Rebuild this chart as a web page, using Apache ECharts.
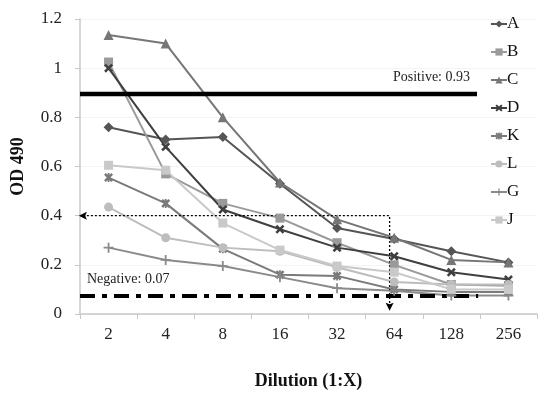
<!DOCTYPE html>
<html><head><meta charset="utf-8">
<script src="https://cdn.jsdelivr.net/npm/echarts@6/dist/echarts.min.js"></script>
<style>html,body{margin:0;padding:0;background:#fff}#c{width:551px;height:395px}</style>
</head><body><div id="c"></div>
<script>
var categories = ['2','4','8','16','32','64','128','256'];
var seriesNames = ['A','B','C','D','K','L','G','J'];
var A = [0.76,0.71,0.72,0.53,0.35,0.305,0.255,0.21];
var B = [1.025,0.57,0.45,0.39,0.29,0.20,0.12,0.115];
var C = [1.135,1.10,0.80,0.535,0.385,0.31,0.22,0.21];
var D = [1.0,0.68,0.425,0.345,0.27,0.235,0.17,0.14];
var K = [0.555,0.45,0.265,0.16,0.155,0.10,0.09,0.09];
var L = [0.435,0.31,0.27,0.255,0.19,0.13,0.12,0.12];
var G = [0.27,0.22,0.195,0.15,0.105,0.095,0.075,0.075];
var J = [0.605,0.585,0.37,0.26,0.195,0.17,0.10,0.10];
var yTicks = [0,0.2,0.4,0.6,0.8,1,1.2];
var positiveLine = [[-0.5,0.895],[6.45,0.895]];
var negativeLine = [[-0.5,0.073],[6.47,0.073]];
var cutoffPath = [[-0.45,0.4],[4.92,0.4],[4.92,0.03]];

var seriesData = {A:A,B:B,C:C,D:D,K:K,L:L,G:G,J:J};
var colors = {A:'#555555',B:'#9a9a9a',C:'#767676',D:'#3f3f3f',K:'#7a7a7a',L:'#bdbdbd',G:'#8a8a8a',J:'#c9c9c9'};
var xPath = 'path://M0,2 L2,0 L5,3 L8,0 L10,2 L7,5 L10,8 L8,10 L5,7 L2,10 L0,8 L3,5 Z';
var symbols = {
  A:['diamond',10], B:['rect',9], C:['triangle',10],
  D:[xPath,9],
  K:['path://M0,2 L2,0 L5,3 L8,0 L10,2 L7,5 L10,8 L8,10 L5,7 L2,10 L0,8 L3,5 Z M4,0 H6 V10 H4 Z',9],
  L:['circle',9],
  G:['path://M4.1,0 H5.9 V4.1 H10 V5.9 H5.9 V10 H4.1 V5.9 H0 V4.1 H4.1 Z',10],
  J:['path://M0,3.8 H10 V6.2 H0 Z',9]
};
var serif = '"Liberation Serif","DejaVu Serif",serif';

var series = seriesNames.map(function(n){
  return {
    name:n, type:'line', data:seriesData[n], xAxisIndex:0, yAxisIndex:0,
    symbol:symbols[n][0], symbolSize:symbols[n][1], showAllSymbol:true,
    lineStyle:{color:colors[n], width:2}, itemStyle:{color:colors[n]},
    emphasis:{disabled:true}, animation:false
  };
});
series.push({
  name:'pos', type:'line', xAxisIndex:1, yAxisIndex:0, data:positiveLine,
  symbol:'none', lineStyle:{color:'#000', width:4.5}, animation:false, silent:true
});
series.push({
  name:'neg', type:'line', xAxisIndex:1, yAxisIndex:0, data:negativeLine,
  symbol:'none', lineStyle:{color:'#000', width:4, type:[15,7,5,7]}, animation:false, silent:true
});
var arrowPath = 'path://M0,0 L10,5 L0,10 L2,5 Z';
series.push({
  name:'cut', type:'line', xAxisIndex:1, yAxisIndex:0,
  data:[
    {value:cutoffPath[0], symbol:arrowPath, symbolSize:[8,8], symbolRotate:180},
    {value:cutoffPath[1], symbol:'none'},
    {value:cutoffPath[2], symbol:arrowPath, symbolSize:[8,8], symbolRotate:-90}
  ],
  showAllSymbol:true,
  lineStyle:{color:'#000', width:1.3, type:[2,2]}, itemStyle:{color:'#000'},
  animation:false, silent:true
});

var chart = echarts.init(document.getElementById('c'));
chart.setOption({
  backgroundColor:'#fff',
  animation:false,
  textStyle:{fontFamily:serif},
  grid:{left:80, right:14, top:19, bottom:80},
  legend:{
    data:seriesNames, orient:'vertical', left:485, top:10,
    itemWidth:16, itemHeight:9, itemGap:10,
    textStyle:{fontFamily:serif, fontSize:17, lineHeight:18, color:'#111', padding:[0,0,0,-5]}
  },
  xAxis:[{
    type:'category', data:categories, boundaryGap:true,
    axisLine:{lineStyle:{color:'#c8c8c8', width:1.5}},
    axisTick:{show:true, alignWithLabel:false, length:5, lineStyle:{color:'#c8c8c8'}},
    axisLabel:{fontFamily:serif, fontSize:17, color:'#222', margin:12},
    name:'Dilution (1:X)', nameLocation:'middle', nameGap:58,
    nameTextStyle:{fontFamily:serif, fontSize:18, fontWeight:'bold', color:'#111'}
  },{
    type:'value', min:-0.5, max:7.5, show:false
  }],
  yAxis:{
    type:'value', min:0, max:1.2, interval:0.2,
    axisLine:{show:true, onZero:false, lineStyle:{color:'#c8c8c8', width:1.5}},
    axisTick:{show:true, length:5, lineStyle:{color:'#c8c8c8'}},
    splitLine:{show:true, lineStyle:{color:'#f3f3f3'}},
    axisLabel:{fontFamily:serif, fontSize:17, color:'#222', margin:18,
      formatter:function(v){ var r = yTicks.filter(function(t){return Math.abs(t-v)<1e-9;}); return r.length? String(r[0]) : ''; }},
    name:'OD 490', nameLocation:'middle', nameGap:53, nameRotate:90,
    nameTextStyle:{fontFamily:serif, fontSize:18, fontWeight:'bold', color:'#111'}
  },
  graphic:[
    {type:'text', left:393, top:70, style:{text:'Positive: 0.93', font:'14px '+serif, fill:'#222'}},
    {type:'text', left:87, top:272, style:{text:'Negative: 0.07', font:'14px '+serif, fill:'#222'}}
  ],
  series:series
});
</script></body></html>
